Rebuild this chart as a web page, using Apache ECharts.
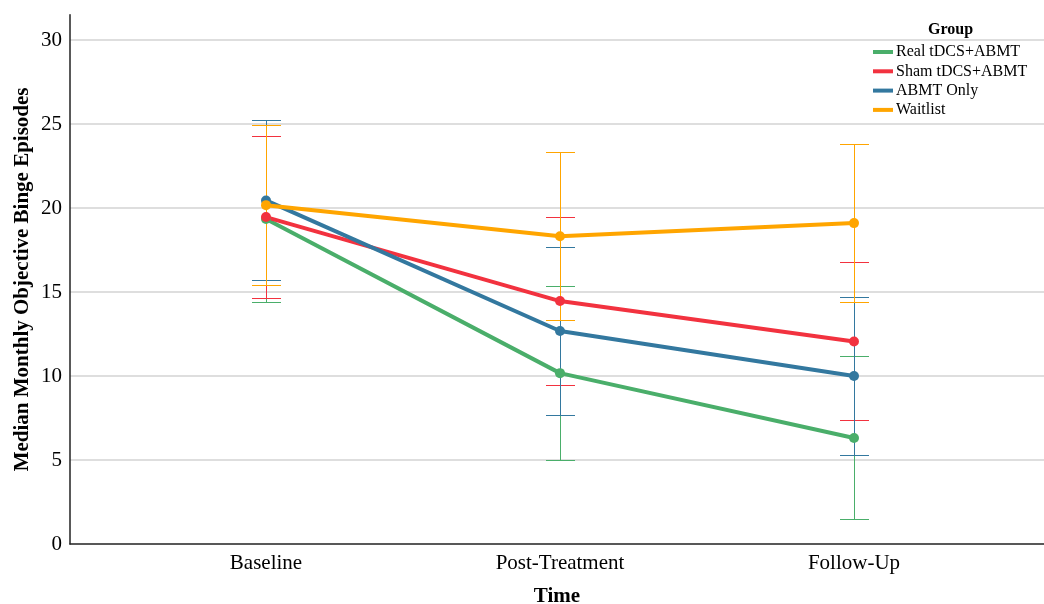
<!DOCTYPE html>
<html>
<head>
<meta charset="utf-8">
<script src="https://cdn.jsdelivr.net/npm/echarts@6/dist/echarts.min.js"></script>
<style>
  html, body { margin: 0; padding: 0; background: #fff; }
  #chart { width: 1044px; height: 604px; }
</style>
</head>
<body>
<div id="chart"></div>
<script>
// Time points on the x axis
const timePoints = ['Baseline', 'Post-Treatment', 'Follow-Up'];

// Study groups, in drawing order
const groups = ['Real tDCS+ABMT', 'Sham tDCS+ABMT', 'ABMT Only', 'Waitlist'];
const groupColors = ['#4AAE6A', '#F2323F', '#33789F', '#FFA500'];

// Median monthly objective binge episodes per group
const realMedian = [19.35, 10.17, 6.31];
const shamMedian = [19.46, 14.46, 12.05];
const abmtMedian = [20.45, 12.68, 10.0];
const waitMedian = [20.17, 18.32, 19.1];

// Lower / upper ends of the error bars per group
const realLow  = [14.42, 5.01, 1.47];
const realHigh = [24.26, 15.35, 11.17];
const shamLow  = [14.66, 9.45, 7.37];
const shamHigh = [24.26, 19.47, 16.76];
const abmtLow  = [15.69, 7.68, 5.29];
const abmtHigh = [25.21, 17.69, 14.69];
const waitLow  = [15.39, 13.31, 14.40];
const waitHigh = [24.96, 23.33, 23.79];

// Y axis tick values
const yTicks = [0, 5, 10, 15, 20, 25, 30];

const medians = [realMedian, shamMedian, abmtMedian, waitMedian];
const lows = [realLow, shamLow, abmtLow, waitLow];
const highs = [realHigh, shamHigh, abmtHigh, waitHigh];

const serif = '"Liberation Serif", "Times New Roman", serif';

const chart = echarts.init(document.getElementById('chart'), null, { renderer: 'canvas' });

const capHalf = 14.5;

// Vertical range line with a cap at each end, snapped to the pixel grid
function errorBarRenderer(color) {
  return function (params, api) {
    const x = api.value(0);
    const lo = api.coord([x, api.value(1)]);
    const hi = api.coord([x, api.value(2)]);
    const cx = Math.round(lo[0]) + 0.5;
    const yLo = Math.round(lo[1]) + 0.5;
    const yHi = Math.round(hi[1]) + 0.5;
    const style = { stroke: color, lineWidth: 1, fill: null };
    return {
      type: 'group',
      children: [
        { type: 'line', shape: { x1: cx, y1: yHi, x2: cx, y2: yLo }, style: style },
        { type: 'line', shape: { x1: cx - capHalf, y1: yHi, x2: cx + capHalf, y2: yHi }, style: style },
        { type: 'line', shape: { x1: cx - capHalf, y1: yLo, x2: cx + capHalf, y2: yLo }, style: style }
      ]
    };
  };
}

const series = [];
groups.forEach(function (g, i) {
  series.push({
    type: 'custom',
    name: g + ' range',
    z: 1,
    silent: true,
    renderItem: errorBarRenderer(groupColors[i]),
    data: timePoints.map(function (t, j) { return [j + 1, lows[i][j], highs[i][j]]; }),
    encode: { x: 0, y: [1, 2] }
  });
});
groups.forEach(function (g, i) {
  series.push({
    type: 'line',
    name: g,
    z: 3,
    data: timePoints.map(function (t, j) { return [j + 1, medians[i][j]]; }),
    symbol: 'circle',
    symbolSize: 10,
    showSymbol: true,
    lineStyle: { color: groupColors[i], width: 4 },
    itemStyle: { color: groupColors[i] },
    animation: false
  });
});

chart.setOption({
  animation: false,
  backgroundColor: '#ffffff',
  grid: { left: 70, right: 0, top: 14.8, bottom: 60, containLabel: false, outerBoundsMode: 'none' },
  xAxis: {
    type: 'value',
    min: 0.3333,
    max: 3.6463,
    name: 'Time',
    nameLocation: 'middle',
    nameGap: 42,
    nameMoveOverlap: false,
    nameTextStyle: { fontFamily: serif, fontWeight: 'bold', fontSize: 21, color: '#000' },
    axisLine: { show: true, onZero: false, lineStyle: { color: '#222', width: 1.5 } },
    axisTick: { show: false },
    splitLine: { show: false },
    axisLabel: {
      customValues: [1, 2, 3],
      formatter: function (v) { return timePoints[Math.round(v) - 1] || ''; },
      fontFamily: serif,
      fontSize: 21,
      color: '#000',
      margin: 9
    }
  },
  yAxis: {
    type: 'value',
    min: 0,
    max: 31.5,
    name: 'Median Monthly Objective Binge Episodes',
    nameLocation: 'middle',
    nameGap: 37,
    nameMoveOverlap: false,
    nameTextStyle: { fontFamily: serif, fontWeight: 'bold', fontSize: 21, color: '#000' },
    axisLine: { show: true, lineStyle: { color: '#222', width: 1.5 } },
    axisTick: { show: false },
    splitLine: { show: true, showMaxLine: false, showMinLine: false, lineStyle: { color: '#d3d3d3', width: 1.5 } },
    axisLabel: {
      customValues: yTicks,
      fontFamily: serif,
      fontSize: 21,
      color: '#000',
      margin: 8
    },
    interval: 5
  },
  legend: {
    orient: 'vertical',
    left: 873,
    top: 44,
    padding: 0,
    itemGap: 3.3,
    itemWidth: 20,
    itemHeight: 4,
    icon: 'rect',
    data: groups,
    textStyle: { fontFamily: serif, fontSize: 16, color: '#000', lineHeight: 16, padding: [0, 0, 0, -2] },
    selectedMode: false
  },
  graphic: [{
    type: 'text',
    left: 928,
    top: 22,
    style: { text: 'Group', font: 'bold 16px ' + serif, fill: '#000' }
  }],
  series: series
});
</script>
</body>
</html>
